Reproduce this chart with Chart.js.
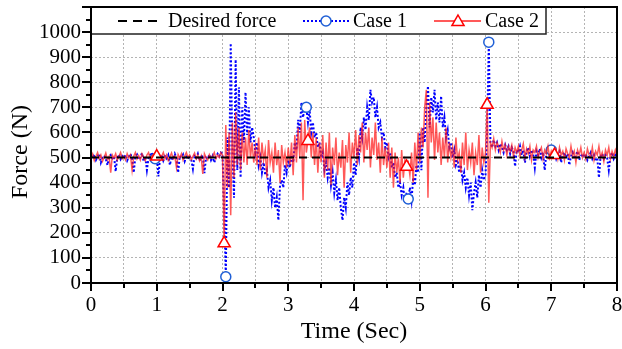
<!DOCTYPE html>
<html>
<head>
<meta charset="utf-8">
<script src="https://cdn.jsdelivr.net/npm/chart.js@4.4.1/dist/chart.umd.min.js"></script>
<style>
  html, body { margin: 0; padding: 0; background: #fff; }
</style>
</head>
<body>
<canvas id="chart" width="622" height="349"></canvas>
<script>
// recorded signals, one sample every 0.025 s from 0 to 8 s
const sampleStep = 0.025;

const desiredTime = [0, 8];
const desiredForce = [500, 500];

const case1Force = [
  505, 498, 512, 490, 503, 515, 480, 500, 508, 495, 470, 502, 510, 497, 505, 445, 500, 512, 493, 506,
  498, 510, 488, 503, 515, 495, 440, 505, 512, 492, 500, 518, 485, 503, 450, 498, 510, 520, 490, 495,
  505, 425, 500, 512, 488, 505, 496, 510, 470, 503, 492, 515, 498, 440, 506, 500, 512, 485, 503, 495,
  508, 492, 455, 505, 498, 515, 488, 503, 510, 438, 500, 495, 512, 490, 506, 480, 500, 515, 505, 520,
  515, 300, 25, 580, 380, 955, 520, 340, 890, 450, 780, 420, 700, 560, 760, 590, 700, 560, 620, 580,
  520, 560, 470, 500, 440, 480, 430, 450, 380, 410, 330, 380, 300, 340, 250, 390, 410, 380, 470, 440,
  490, 460, 510, 480, 560, 530, 650, 600, 720, 660, 700, 700, 640, 690, 600, 640, 580, 600, 540, 560,
  500, 520, 450, 480, 420, 460, 390, 440, 360, 410, 330, 380, 300, 250, 340, 300, 400, 350, 420, 380,
  480, 430, 540, 500, 620, 580, 660, 610, 700, 650, 770, 720, 740, 660, 700, 620, 640, 580, 600, 540,
  560, 500, 520, 460, 480, 420, 440, 380, 400, 350, 380, 320, 360, 335, 380, 330, 420, 390, 470, 440,
  600, 450, 620, 560, 700, 785, 620, 740, 680, 770, 650, 720, 640, 745, 620, 660, 580, 610, 540, 560,
  500, 530, 470, 490, 440, 470, 410, 440, 380, 420, 350, 400, 290, 360, 400, 340, 430, 380, 450, 410,
  430, 600, 960, 560, 540, 570, 545, 560, 530, 555, 540, 520, 550, 530, 545, 515, 540, 525, 465, 530,
  520, 545, 510, 530, 480, 525, 540, 505, 530, 515, 460, 525, 510, 535, 500, 520, 450, 515, 530, 505,
  530, 510, 520, 495, 515, 525, 480, 510, 520, 500, 515, 470, 505, 520, 495, 510, 525, 490, 505, 515,
  500, 515, 490, 505, 520, 495, 510, 485, 500, 420, 505, 515, 495, 510, 500, 450, 505, 520, 495, 510,
  500
];

const case2Force = [
  500, 515, 488, 505, 520, 495, 510, 485, 500, 518, 492, 505, 440, 510, 498, 515, 490, 505, 520, 495,
  505, 490, 515, 498, 510, 450, 505, 520, 495, 508, 490, 515, 500, 488, 510, 520, 495, 505, 512, 498,
  504, 515, 490, 505, 520, 495, 510, 488, 503, 518, 495, 505, 460, 512, 498, 515, 490, 506, 520, 500,
  510, 492, 505, 518, 495, 510, 488, 505, 435, 515, 500, 490, 512, 498, 505, 520, 495, 510, 500, 520,
  510, 158, 630, 380, 600, 270, 640, 420, 680, 470, 620, 450, 600, 480, 580, 470, 610, 500, 560, 480,
  540, 470, 580, 450, 560, 490, 530, 420, 570, 480, 520, 440, 560, 470, 530, 400, 550, 480, 520, 460,
  540, 470, 560, 430, 590, 480, 620, 500, 640, 330, 650, 520, 566, 620, 500, 600, 470, 580, 440, 560,
  480, 590, 420, 560, 450, 600, 390, 540, 470, 580, 430, 520, 460, 570, 380, 550, 480, 600, 440, 560,
  500, 610, 470, 590, 520, 640, 480, 600, 530, 620, 460, 580, 510, 640, 490, 560, 440, 580, 470, 540,
  460, 560, 420, 540, 380, 520, 440, 500, 400, 530, 420, 490, 463, 480, 430, 520, 400, 560, 450, 600,
  480, 620, 540, 700, 770, 340, 720, 560, 660, 490, 640, 520, 600, 470, 580, 500, 620, 480, 560, 500,
  540, 460, 580, 490, 520, 440, 560, 470, 600, 450, 530, 480, 560, 430, 520, 470, 590, 440, 540, 480,
  520, 710, 320, 560, 540, 575, 530, 560, 545, 520, 565, 530, 550, 510, 545, 525, 550, 505, 540, 520,
  545, 505, 530, 555, 500, 535, 515, 545, 490, 530, 520, 545, 500, 525, 540, 495, 530, 515, 545, 500,
  525, 505, 510, 530, 495, 540, 510, 525, 490, 535, 515, 500, 545, 505, 525, 480, 530, 510, 540, 500,
  520, 495, 535, 510, 500, 540, 490, 525, 510, 545, 500, 520, 485, 530, 510, 540, 495, 525, 505, 530,
  510
];

// sample indices that carry a marker
const case1Markers = [39, 82, 131, 193, 242, 280];
const case2Markers = [40, 81, 132, 192, 241, 282];

const xTickLabels = [0, 1, 2, 3, 4, 5, 6, 7, 8];
const yTickLabels = [0, 100, 200, 300, 400, 500, 600, 700, 800, 900, 1000];

const SERIF = '"Liberation Serif", "Times New Roman", serif';
const BLUE = 'rgb(0, 0, 255)';
const MARKER_BLUE = 'rgb(31, 95, 214)';
const RED = 'rgba(255, 25, 25, 0.72)';

function toPoints(values) {
  return values.map((v, i) => ({ x: i * sampleStep, y: v }));
}

function drawTriangle(ctx, x, y, r) {
  ctx.beginPath();
  ctx.moveTo(x, y - r);
  ctx.lineTo(x + r * Math.sin(2 * Math.PI / 3), y + r / 2);
  ctx.lineTo(x - r * Math.sin(2 * Math.PI / 3), y + r / 2);
  ctx.closePath();
}

// keep the plot box where the layout padding puts it
function noEdgePadding(s) {
  s.paddingTop = 0;
  s.paddingBottom = 0;
  s.paddingLeft = 0;
  s.paddingRight = 0;
}

// frame, minor ticks, axis titles and the boxed legend
const decorations = {
  id: 'decorations',
  afterDraw(chart) {
    const { ctx, chartArea: a, scales: { x, y } } = chart;
    ctx.save();

    // legend box
    const lb = { left: a.left, top: a.top, right: 546, bottom: 34 };
    ctx.fillStyle = '#fff';
    ctx.fillRect(lb.left, lb.top, lb.right - lb.left, lb.bottom - lb.top);
    ctx.strokeStyle = '#222';
    ctx.lineWidth = 1.5;
    ctx.strokeRect(lb.left, lb.top, lb.right - lb.left, lb.bottom - lb.top);

    const ly = 21;
    ctx.font = '20px ' + SERIF;
    ctx.textBaseline = 'middle';
    ctx.fillStyle = '#000';

    // desired force sample
    ctx.strokeStyle = '#000';
    ctx.lineWidth = 2;
    ctx.setLineDash([9, 6]);
    ctx.beginPath(); ctx.moveTo(118, ly); ctx.lineTo(158, ly); ctx.stroke();
    ctx.setLineDash([]);
    ctx.fillText('Desired force', 168, ly + 1);

    // case 1 sample
    ctx.strokeStyle = BLUE;
    ctx.setLineDash([2, 2]);
    ctx.beginPath(); ctx.moveTo(303, ly); ctx.lineTo(349, ly); ctx.stroke();
    ctx.setLineDash([]);
    ctx.beginPath(); ctx.arc(326, ly, 5, 0, Math.PI * 2);
    ctx.fillStyle = '#fff'; ctx.fill();
    ctx.strokeStyle = MARKER_BLUE; ctx.lineWidth = 1.5; ctx.stroke();
    ctx.fillStyle = '#000';
    ctx.fillText('Case 1', 353, ly + 1);

    // case 2 sample
    ctx.strokeStyle = RED;
    ctx.lineWidth = 2;
    ctx.beginPath(); ctx.moveTo(434, ly); ctx.lineTo(481, ly); ctx.stroke();
    drawTriangle(ctx, 458, ly + 1, 7);
    ctx.fillStyle = '#fff'; ctx.fill();
    ctx.strokeStyle = 'rgb(255, 0, 0)'; ctx.lineWidth = 1.5; ctx.stroke();
    ctx.fillStyle = '#000';
    ctx.fillText('Case 2', 485, ly + 1);

    // plot frame
    ctx.strokeStyle = '#000';
    ctx.lineWidth = 2;
    ctx.strokeRect(a.left, a.top, a.right - a.left, a.bottom - a.top);

    // tick marks (majors long, minors short)
    ctx.lineWidth = 2;
    ctx.beginPath();
    for (let v = 0; v <= 8; v += 0.5) {
      const px = Math.round(x.getPixelForValue(v));
      const len = Number.isInteger(v) ? 8 : 5;
      ctx.moveTo(px, a.bottom); ctx.lineTo(px, a.bottom + len);
    }
    for (let v = 0; v <= 1100; v += 50) {
      const py = Math.round(y.getPixelForValue(v));
      const len = v % 100 === 0 ? 9 : 5;
      ctx.moveTo(a.left - len, py); ctx.lineTo(a.left, py);
    }
    ctx.stroke();

    // axis titles
    ctx.fillStyle = '#000';
    ctx.font = '24px ' + SERIF;
    ctx.textAlign = 'center';
    ctx.textBaseline = 'alphabetic';
    ctx.fillText('Time (Sec)', (a.left + a.right) / 2, 338);
    ctx.translate(27, 152);
    ctx.rotate(-Math.PI / 2);
    ctx.fillText('Force (N)', 0, 0);

    ctx.restore();
  }
};

new Chart(document.getElementById('chart'), {
  type: 'line',
  data: {
    datasets: [
      {
        label: 'Desired force',
        data: desiredTime.map((t, i) => ({ x: t, y: desiredForce[i] })),
        borderColor: '#000',
        borderWidth: 2,
        borderDash: [8, 5],
        pointRadius: 0,
        order: 0
      },
      {
        label: 'Case 2',
        data: toPoints(case2Force),
        borderColor: RED,
        borderWidth: 1.5,
        pointRadius: ctx => case2Markers.includes(ctx.dataIndex) ? 7 : 0,
        pointStyle: 'triangle',
        pointBackgroundColor: '#fff',
        pointBorderColor: 'rgb(255, 0, 0)',
        pointBorderWidth: 1.5,
        order: 1
      },
      {
        label: 'Case 1',
        data: toPoints(case1Force),
        borderColor: BLUE,
        borderWidth: 2,
        borderDash: [2, 2],
        pointRadius: ctx => case1Markers.includes(ctx.dataIndex) ? 5 : 0,
        pointStyle: 'circle',
        pointBackgroundColor: '#fff',
        pointBorderColor: MARKER_BLUE,
        pointBorderWidth: 1.5,
        order: 2
      }
    ]
  },
  options: {
    responsive: false,
    animation: false,
    devicePixelRatio: 1,
    events: [],
    layout: { padding: { top: 7, right: 5, left: 0, bottom: 0 } },
    plugins: {
      legend: { display: false },
      tooltip: { enabled: false }
    },
    scales: {
      x: {
        type: 'linear',
        min: 0,
        max: 8,
        afterFit: s => { s.height = 66; noEdgePadding(s); },
        ticks: {
          stepSize: 0.5,
          padding: 10,
          maxRotation: 0,
          autoSkip: false,
          color: '#000',
          font: { family: SERIF, size: 21 },
          callback: v => xTickLabels.includes(v) ? String(v) : ''
        },
        grid: { color: '#b4b4b4', lineWidth: 1, drawTicks: false },
        border: { display: false, dash: [2, 2] }
      },
      y: {
        min: 0,
        max: 1100,
        afterFit: s => { s.width = 91; noEdgePadding(s); },
        ticks: {
          stepSize: 100,
          padding: 10,
          autoSkip: false,
          color: '#000',
          font: { family: SERIF, size: 21 },
          callback: v => yTickLabels.includes(v) ? String(v) : ''
        },
        grid: { color: '#b4b4b4', lineWidth: 1, drawTicks: false },
        border: { display: false, dash: [2, 2] }
      }
    }
  },
  plugins: [decorations]
});
</script>
</body>
</html>
